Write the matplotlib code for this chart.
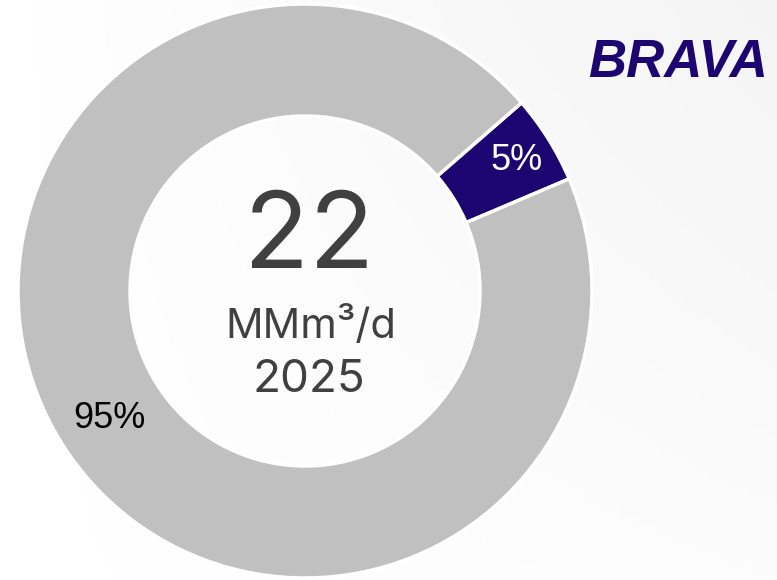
import matplotlib.pyplot as plt
import numpy as np

# data
shares = [5, 95]
share_labels = ['5%', '95%']
slice_colors = ['#1c0570', '#c0c0c0']
total_value = '22'
unit = 'MMm³/d'
year = '2025'
logo = 'BRAVA'


def main():
    fig = plt.figure(figsize=(7.77, 5.80), dpi=100)

    # soft background gradient
    bg = fig.add_axes([0, 0, 1, 1])
    grad = np.linspace(0, 1, 256)[None, :] * np.linspace(1, 0.3, 64)[:, None]
    bg.imshow(grad, cmap='Greys', vmin=0, vmax=11, aspect='auto',
              extent=[0, 1, 0, 1])
    bg.set_axis_off()

    ax = fig.add_axes([0, 0, 1, 1])
    ax.patch.set_alpha(0)
    ax.pie(shares, colors=slice_colors, center=(305, 289),
           radius=287, startangle=23, counterclock=True,
           wedgeprops=dict(width=112, edgecolor='white', linewidth=2.5))
    ax.set_xlim(0, 777)
    ax.set_ylim(0, 580)
    ax.set_aspect('auto')
    ax.set_axis_off()

    # slice labels
    ax.text(517, 580 - 160, share_labels[0], color='white', fontsize=26,
            family='Liberation Sans', ha='center', va='center')
    ax.text(109, 580 - 419, share_labels[1], color='black', fontsize=26,
            family='Liberation Sans', ha='center', va='center')

    # centre text
    ax.text(309, 580 - 240, total_value, color='#404040', fontsize=77,
            family='Inter', ha='center', va='center')
    ax.text(311, 580 - 326, unit, color='#404040', fontsize=30,
            family='Inter', ha='center', va='center')
    ax.text(309, 580 - 380, year, color='#404040', fontsize=33,
            family='Inter', ha='center', va='center')

    # logo
    ax.text(768, 580 - 63, logo, color='#1c0570', fontsize=38,
            family='Liberation Sans', fontweight='bold', style='italic',
            ha='right', va='center')

    fig.savefig('out.png', dpi=100)


if __name__ == '__main__':
    main()
